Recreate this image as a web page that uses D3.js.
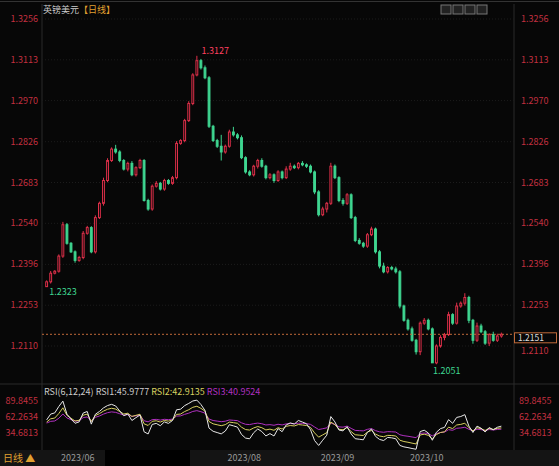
<!DOCTYPE html>
<html><head><meta charset="utf-8">
<script src="https://cdn.jsdelivr.net/npm/d3@7"></script>
<style>body{margin:0;background:#000}svg{display:block}text{font-family:"Noto Sans CJK SC","DejaVu Sans",sans-serif}</style>
</head><body><div id="c"></div>
<script>
var W = 559, H = 466;

// daily closes
var firstOpen = 1.2318;
var closes = [1.2335,1.2365,1.2372,1.2425,1.2535,1.2470,1.2440,1.2410,1.2420,1.2505,1.2525,1.2440,1.2560,1.2610,1.2690,1.2760,1.2800,1.2790,
  1.2760,1.2730,1.2750,1.2710,1.2735,1.2760,1.2620,1.2590,1.2670,1.2680,1.2660,1.2690,1.2680,
  1.2700,1.2820,1.2830,1.2900,1.2960,1.3060,1.3110,1.3085,1.3050,1.2880,1.2830,1.2810,1.2790,1.2810,1.2860,1.2850,1.2840,1.2770,1.2720,1.2710,1.2740,1.2760,1.2740,1.2700,
  1.2710,1.2690,1.2720,1.2700,1.2730,1.2740,1.2735,1.2750,1.2745,1.2740,1.2720,1.2650,1.2570,1.2590,1.2610,1.2740,1.2700,1.2620,1.2610,1.2640,1.2560,1.2480,1.2470,1.2460,1.2500,1.2520,1.2440,1.2390,1.2370,1.2385,1.2380,1.2370,1.2250,1.2200,1.2170,1.2130,1.2090,1.2190,1.2200,1.2170,1.2051,
  1.2110,1.2140,1.2150,1.2220,1.2190,1.2250,1.2260,1.2280,1.2200,1.2130,1.2180,1.2160,1.2120,1.2150,1.2130,1.2145,1.2151];
// wick lengths in pips
var upWick = [5,8,4,6,10,6,4,5,6,8,6,5,8,6,10,8,6,15,6,5,6,8,5,6,5,6,6,8,5,6,5,
  6,8,5,6,8,6,16,6,8,6,5,6,40,6,8,18,6,8,5,6,5,6,8,5,
  6,5,6,5,10,12,6,5,8,5,6,5,6,8,5,12,6,5,8,6,5,6,8,5,6,8,5,6,12,5,6,8,6,5,6,8,5,6,8,6,5,
  6,8,6,10,5,12,6,15,6,5,12,8,6,5,10,8,6];
var loWick = [5,6,4,5,6,5,4,8,5,6,5,5,6,5,8,6,5,6,6,5,8,5,6,5,4,6,6,5,5,6,5,
  5,6,5,6,5,6,5,6,5,6,5,6,30,6,5,6,6,5,6,5,6,8,5,6,
  6,8,5,6,5,6,5,6,5,6,5,8,6,5,12,6,5,6,8,6,5,6,5,6,6,5,6,8,5,6,5,6,8,5,6,5,10,12,6,5,6,
  5,6,10,5,6,5,6,8,10,12,6,5,6,10,5,6,6];

var priceTicks = [1.3256,1.3113,1.2970,1.2826,1.2683,1.2540,1.2396,1.2253,1.2110];
var rsiTicks = [89.8455,62.2634,34.6813];
var monthLabels = [["2023/06",8],["2023/08",49],["2023/09",72],["2023/10",94]];

var red = "#e0304a", green = "#3fd691", axisRed = "#c23040";

var data = closes.map(function(c, i) {
  var o = i === 0 ? firstOpen : closes[i - 1];
  return {i: i, o: o, c: c, h: Math.max(o, c) + upWick[i] / 10000, l: Math.min(o, c) - loWick[i] / 10000};
});
data[37].h = 1.3127; data[data.length - 18].l = 1.2051; data[0].l = 1.2323;

var svg = d3.select("#c").append("svg").attr("width", W).attr("height", H);
svg.append("rect").attr("width", W).attr("height", H).attr("fill", "#070707");

var x = d3.scaleBand().domain(d3.range(data.length)).range([44, 504]).padding(0.3);
var y = d3.scaleLinear().domain([1.2110, 1.3256]).range([346, 19]);

// frame
svg.append("line").attr("x1", 0).attr("x2", W).attr("y1", 1.5).attr("y2", 1.5).attr("stroke", "#333");
[42, 514].forEach(function(px) {
  svg.append("line").attr("x1", px).attr("x2", px).attr("y1", 4).attr("y2", 450).attr("stroke", "#2a2a2a");
});
svg.append("line").attr("x1", 0).attr("x2", W).attr("y1", 384).attr("y2", 384).attr("stroke", "#2a2a2a");

// grid + price labels
priceTicks.forEach(function(t, k) {
  svg.append("line").attr("x1", 42).attr("x2", 514).attr("y1", y(t)).attr("y2", y(t))
    .attr("stroke", "#1c1c1c").attr("stroke-dasharray", "1,2");
  svg.append("text").attr("x", 38).attr("y", y(t) + 3).attr("text-anchor", "end")
    .attr("font-size", 9).attr("fill", axisRed).text(t.toFixed(4));
  svg.append("text").attr("x", 521).attr("y", y(t) + (k === priceTicks.length - 1 ? 8 : 3))
    .attr("font-size", 9).attr("fill", axisRed).text(t.toFixed(4));
});

// candles
var g = svg.append("g");
data.forEach(function(d) {
  var up = d.c >= d.o, col = up ? red : green;
  var cx = x(d.i) + x.bandwidth() / 2;
  var top = y(Math.max(d.o, d.c)), bot = y(Math.min(d.o, d.c));
  g.append("line").attr("x1", cx).attr("x2", cx).attr("y1", y(d.h)).attr("y2", top).attr("stroke", col);
  g.append("line").attr("x1", cx).attr("x2", cx).attr("y1", bot).attr("y2", y(d.l)).attr("stroke", col);
  g.append("rect").attr("x", x(d.i) + 0.5).attr("y", top).attr("width", x.bandwidth() - 1)
    .attr("height", Math.max(1, bot - top))
    .attr("fill", up ? "#070707" : col).attr("stroke", col).attr("stroke-width", 1);
});

// max / min labels
var hi = data[37], lo = data[data.length - 18];
svg.append("text").attr("x", x(hi.i) + 6).attr("y", y(hi.h) - 2).attr("font-size", 9).attr("fill", "#ff4060").text("1.3127");
svg.append("text").attr("x", x(lo.i) + 2).attr("y", y(lo.l) + 11).attr("font-size", 9).attr("fill", green).text("1.2051");
svg.append("text").attr("x", x(0) + 4).attr("y", y(1.2323) + 10).attr("font-size", 9).attr("fill", green).text("1.2323");

// last price line + tag
var last = closes[closes.length - 1];
svg.append("line").attr("x1", 42).attr("x2", 514).attr("y1", y(last)).attr("y2", y(last))
  .attr("stroke", "#c06a3a").attr("stroke-dasharray", "2,2");
svg.append("rect").attr("x", 514.5).attr("y", y(last) - 1.5).attr("width", 42).attr("height", 10)
  .attr("fill", "#070707").attr("stroke", "#c06a3a");
svg.append("text").attr("x", 518).attr("y", y(last) + 6.5).attr("font-size", 8.5).attr("fill", "#ddd").text(last.toFixed(4));

// header
svg.append("text").attr("x", 43).attr("y", 13).attr("font-size", 9).attr("fill", "#ccc").text("英镑美元");
svg.append("text").attr("x", 79).attr("y", 13).attr("font-size", 9).attr("fill", "#e0a030").text("【日线】");
[441, 453, 465, 477].forEach(function(px) {
  svg.append("rect").attr("x", px).attr("y", 5).attr("width", 10).attr("height", 9)
    .attr("fill", "#222").attr("stroke", "#777");
});

// RSI
function rsi(n) {
  var out = [], ag = 0.001, al = 0.001;
  data.forEach(function(d) {
    var ch = d.c - d.o, gn = Math.max(ch, 0), ls = Math.max(-ch, 0);
    ag = (ag * (n - 1) + gn) / n; al = (al * (n - 1) + ls) / n;
    out.push(100 * ag / (ag + al));
  });
  return out;
}
var ry = d3.scaleLinear().domain([34.6813, 89.8455]).range([433, 401]);
rsiTicks.forEach(function(t) {
  svg.append("text").attr("x", 38).attr("y", ry(t) + 3).attr("text-anchor", "end").attr("font-size", 9).attr("fill", axisRed).text(t.toFixed(4));
  svg.append("text").attr("x", 519).attr("y", ry(t) + 3).attr("font-size", 9).attr("fill", axisRed).text(t.toFixed(4));
});
var line = d3.line().x(function(v, i) { return x(i) + x.bandwidth() / 2; }).y(function(v) { return ry(v); });
[[24, "#b030c0"], [12, "#d8d060"], [6, "#e8e8e8"]].forEach(function(s) {
  svg.append("path").attr("d", line(rsi(s[0]))).attr("fill", "none").attr("stroke", s[1]).attr("stroke-width", 1);
});
var lg = svg.append("text").attr("x", 44).attr("y", 395).attr("font-size", 9);
lg.append("tspan").attr("fill", "#ccc").text("RSI(6,12,24) RSI1:45.9777 ");
lg.append("tspan").attr("fill", "#d8d060").text("RSI2:42.9135 ");
lg.append("tspan").attr("fill", "#b030c0").text("RSI3:40.9524");

// bottom bar
svg.append("rect").attr("x", 0).attr("y", 450).attr("width", W).attr("height", 16).attr("fill", "#141414");
svg.append("rect").attr("x", 105).attr("y", 450).attr("width", 85).attr("height", 16).attr("fill", "#000");
svg.append("text").attr("x", 3).attr("y", 462).attr("font-size", 10).attr("fill", "#e0a030").text("日线 ▲");
monthLabels.forEach(function(m) {
  svg.append("text").attr("x", x(m[1])).attr("y", 461).attr("text-anchor", "middle")
    .attr("font-size", 9).attr("fill", "#999").text(m[0]);
});
</script></body></html>
